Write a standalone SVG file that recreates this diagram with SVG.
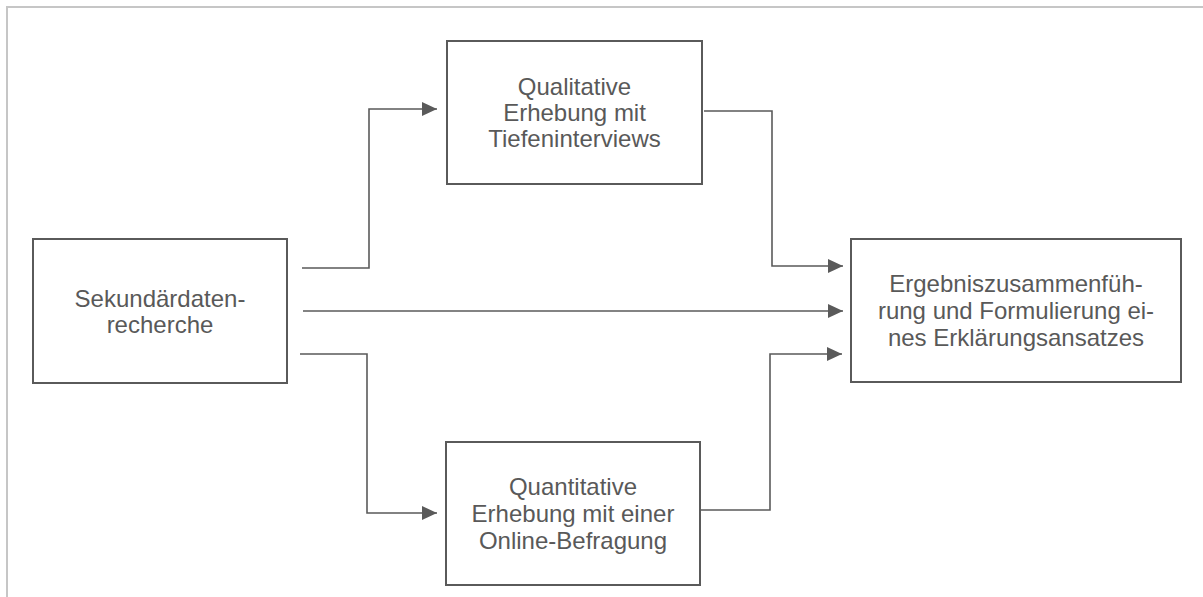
<svg xmlns="http://www.w3.org/2000/svg" width="1203" height="597" viewBox="0 0 1203 597">
  <style>
    .frame { fill: none; stroke: #c6c6c6; stroke-width: 2; }
    .box { fill: #ffffff; stroke: #5a5a5a; stroke-width: 2; }
    .label { font-family: "Liberation Sans", Arial, sans-serif; font-size: 24px; fill: #595959; text-anchor: middle; }
    .link { fill: none; stroke: #5a5a5a; stroke-width: 1.6; marker-end: url(#arrow); }
  </style>
  <defs>
    <marker id="arrow" markerUnits="userSpaceOnUse" markerWidth="16" markerHeight="16" viewBox="0 0 16 16" refX="15" refY="8" orient="auto">
      <path d="M0,1 L15,8 L0,15 Z" fill="#5a5a5a"/>
    </marker>
  </defs>

  <rect width="1203" height="597" fill="#ffffff"/>
  <!-- outer frame (top and left edges only) -->
  <path class="frame" d="M7,597 V7 H1203"/>

  <g id="connectors">
    <path class="link" d="M302,268 H369 V109 H437"/>
    <path class="link" d="M303,311 H843"/>
    <path class="link" d="M300,354 H367 V513 H437"/>
    <path class="link" d="M704,111 H772 V266 H843"/>
    <path class="link" d="M701,510 H770 V354 H842"/>
  </g>

  <g id="sekundaerdaten">
    <rect class="box" x="33" y="239" width="254" height="144"/>
    <text class="label" x="160" y="307">Sekundärdaten-</text>
    <text class="label" x="160" y="333">recherche</text>
  </g>

  <g id="qualitativ">
    <rect class="box" x="447" y="41" width="255" height="143"/>
    <text class="label" x="574.5" y="95">Qualitative</text>
    <text class="label" x="574.5" y="121">Erhebung mit</text>
    <text class="label" x="574.5" y="147">Tiefeninterviews</text>
  </g>

  <g id="quantitativ">
    <rect class="box" x="446" y="442" width="254" height="143"/>
    <text class="label" x="573" y="495">Quantitative</text>
    <text class="label" x="573" y="522">Erhebung mit einer</text>
    <text class="label" x="573" y="549">Online-Befragung</text>
  </g>

  <g id="ergebnis">
    <rect class="box" x="851" y="239" width="330" height="143"/>
    <text class="label" x="1016" y="292">Ergebniszusammenfüh-</text>
    <text class="label" x="1016" y="319">rung und Formulierung ei-</text>
    <text class="label" x="1016" y="346">nes Erklärungsansatzes</text>
  </g>
</svg>
